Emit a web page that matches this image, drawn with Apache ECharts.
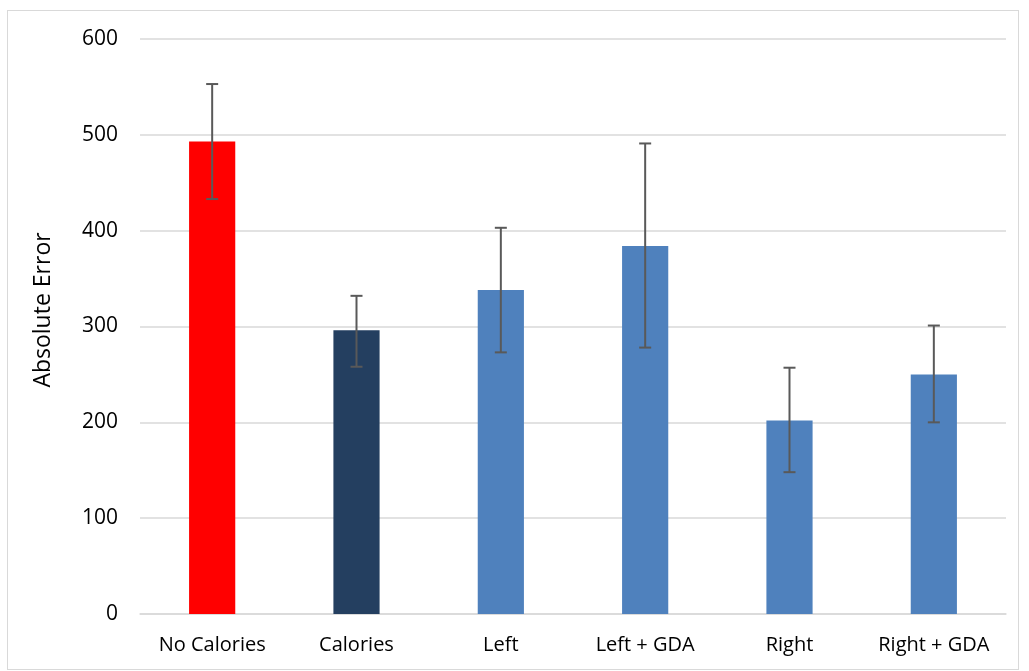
<!DOCTYPE html>
<html><head><meta charset="utf-8">
<script src="https://cdn.jsdelivr.net/npm/echarts@6/dist/echarts.min.js"></script>
<style>
html,body{margin:0;padding:0;background:#fff;}
#frame{position:absolute;left:7px;top:10px;width:1012px;height:660px;border:1.5px solid #d9d9d9;box-sizing:border-box;}
#chart{position:absolute;left:0;top:0;width:1029px;height:671px;}
</style></head>
<body>
<div id="frame"></div>
<div id="chart"></div>
<script>
const categories = ['No Calories', 'Calories', 'Left', 'Left + GDA', 'Right', 'Right + GDA'];
const values = [493, 296, 338, 384, 202, 250];
const errLow = [433, 258, 273, 278, 148, 200];
const errHigh = [553, 332, 403, 491, 257, 301];
const barColors = ['#ff0000', '#243f60', '#4f81bd', '#4f81bd', '#4f81bd', '#4f81bd'];
const yTicks = [0, 100, 200, 300, 400, 500, 600];
const yTitle = 'Absolute Error';

const chart = echarts.init(document.getElementById('chart'));
const font = '"Open Sans", "Noto Sans", sans-serif';
chart.setOption({
  animation: false,
  grid: { left: 140, right: 23, top: 39, bottom: 57, containLabel: false },
  graphic: [{
    type: 'text', x: 43, y: 310, rotation: Math.PI / 2,
    style: { text: yTitle, fill: '#000', fontSize: 23, fontFamily: font, align: 'center', verticalAlign: 'middle' }
  }],
  xAxis: {
    type: 'category', data: categories,
    axisLine: { lineStyle: { color: '#d9d9d9', width: 1.5 } },
    axisTick: { show: false },
    axisLabel: { color: '#000', fontSize: 20, fontFamily: font, margin: 21, interval: 0 }
  },
  yAxis: {
    type: 'value', min: yTicks[0], max: yTicks[yTicks.length - 1], interval: 100,
    axisLine: { show: false }, axisTick: { show: false },
    axisLabel: { color: '#000', fontSize: 21, fontFamily: font, margin: 22 },
    splitLine: { lineStyle: { color: '#d9d9d9', width: 1.5 } }
  },
  series: [
    {
      type: 'bar', barWidth: '32%',
      data: values.map((v, i) => ({ value: v, itemStyle: { color: barColors[i] } }))
    },
    {
      type: 'custom',
      data: categories.map((c, i) => [i, errLow[i], errHigh[i]]),
      z: 10,
      renderItem: function (params, api) {
        const x = api.value(0);
        const lo = api.coord([x, api.value(1)]);
        const hi = api.coord([x, api.value(2)]);
        const hw = 6;
        const style = { stroke: '#595959', lineWidth: 2, fill: null };
        return {
          type: 'group', children: [
            { type: 'line', shape: { x1: lo[0], y1: lo[1], x2: hi[0], y2: hi[1] }, style: style },
            { type: 'line', shape: { x1: lo[0] - hw, y1: lo[1], x2: lo[0] + hw, y2: lo[1] }, style: style },
            { type: 'line', shape: { x1: hi[0] - hw, y1: hi[1], x2: hi[0] + hw, y2: hi[1] }, style: style }
          ]
        };
      }
    }
  ]
});
</script>
</body></html>
